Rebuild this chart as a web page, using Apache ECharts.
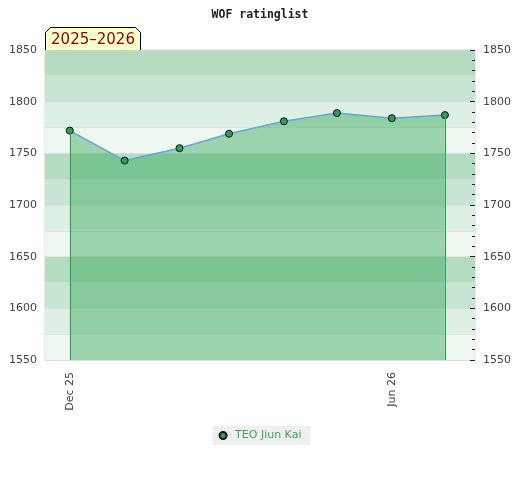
<!DOCTYPE html>
<html>
<head>
<meta charset="utf-8">
<script src="https://cdn.jsdelivr.net/npm/echarts@6/dist/echarts.min.js"></script>
<style>html,body{margin:0;padding:0;background:#fff}#c{width:520px;height:480px}</style>
</head>
<body>
<div id="c"></div>
<script>
var titleText = 'WOF ratinglist';
var seasonText = '2025–2026';
var playerName = 'TEO Jiun Kai';
var dates = ['2025-12-01','2026-01-01','2026-02-01','2026-03-01','2026-04-01','2026-05-01','2026-06-01','2026-07-01'];
var ratings = [1772, 1743, 1755, 1769, 1781, 1789, 1784, 1787];
var xTickDates = ['2025-12-01', '2026-06-01'];
var xTickLabels = ['Dec 25', 'Jun 26'];
var xRange = ['2025-11-17', '2026-07-18'];
var yMin = 1550, yMax = 1850, yStep = 50, bandStep = 25;

var ts = function (d) { return Date.parse(d); };
var seriesData = dates.map(function (d, i) { return [ts(d), ratings[i]]; });
var tickTs = xTickDates.map(ts);
var last = dates.length - 1;
var plain = function (v) { return String(v); };

var chart = echarts.init(document.getElementById('c'));
var font = 'DejaVu Sans';
chart.setOption({
  animation: false,
  title: {
    text: titleText, left: 'center', top: 4,
    textStyle: { fontFamily: 'DejaVu Sans Mono', fontWeight: 'bold', fontSize: 11.5, color: '#222' }
  },
  graphic: [{
    type: 'group', left: 45, top: 27, z: 100,
    children: [{
      type: 'polygon',
      shape: { points: [[0, 5], [5, 0], [90, 0], [95, 5], [95, 23], [0, 23]] },
      style: { fill: '#ffffcc', stroke: '#000', lineWidth: 1 }
    }, {
      type: 'text', x: 47.5, y: 13,
      style: { text: seasonText, fill: '#8b0000', font: '15px "DejaVu Sans"', align: 'center', verticalAlign: 'middle' }
    }]
  }],
  legend: {
    data: [playerName], top: 426, left: 'center',
    backgroundColor: '#f0f0f0', padding: [4, 9, 4, 6],
    icon: 'circle', itemWidth: 14, itemHeight: 7,
    textStyle: { color: '#3ba55d', fontSize: 11, fontFamily: font }
  },
  grid: { left: 45, right: 45, top: 50, bottom: 120, show: true, borderColor: '#d4d4d4', borderWidth: 1, backgroundColor: 'transparent' },
  xAxis: {
    type: 'value', min: ts(xRange[0]), max: ts(xRange[1]),
    axisLine: { show: false }, axisTick: { show: false }, splitLine: { show: false },
    axisLabel: {
      customValues: tickTs, rotate: 90, margin: 12, color: '#444', fontSize: 11, fontFamily: font,
      formatter: function (v) { var i = tickTs.indexOf(v); return i >= 0 ? xTickLabels[i] : ''; }
    }
  },
  yAxis: [{
    type: 'value', min: yMin, max: yMax, interval: yStep, position: 'left',
    axisLine: { show: false }, axisTick: { show: false }, splitLine: { show: false },
    axisLabel: { color: '#444', fontSize: 11, fontFamily: font, margin: 8, formatter: plain }
  }, {
    type: 'value', min: yMin, max: yMax, interval: yStep, position: 'right',
    axisLine: { show: false },
    axisTick: { show: true, inside: true, length: 5, lineStyle: { color: '#222' } },
    minorTick: { show: true, splitNumber: 5, length: 3, lineStyle: { color: '#222' } },
    splitLine: { show: false },
    axisLabel: { color: '#444', fontSize: 11, fontFamily: font, margin: 8, formatter: plain }
  }, {
    type: 'value', min: yMin, max: yMax, interval: bandStep, position: 'left', z: 0,
    axisLine: { show: false }, axisTick: { show: false }, axisLabel: { show: false },
    splitLine: { show: true, lineStyle: { color: 'rgba(215,215,215,0.6)', width: 1 } },
    splitArea: { show: true, areaStyle: { color: ['#eff7f1', '#deefe4', '#c8e5d3', '#b3dcc0'] } }
  }],
  series: [{
    name: playerName, type: 'line', yAxisIndex: 0, data: seriesData,
    symbol: 'circle', symbolSize: 7,
    itemStyle: { color: '#2e9e5b', borderColor: '#111', borderWidth: 1 },
    lineStyle: { color: '#62a6dc', width: 1.5 },
    areaStyle: { color: 'rgba(63,172,96,0.48)', opacity: 1, origin: 'start' },
    markLine: {
      silent: true, symbol: 'none', label: { show: false },
      lineStyle: { color: '#2e9e5b', width: 1, type: 'solid' },
      data: [
        [{ coord: [seriesData[0][0], ratings[0]] }, { coord: [seriesData[0][0], yMin] }],
        [{ coord: [seriesData[last][0], ratings[last]] }, { coord: [seriesData[last][0], yMin] }]
      ]
    }
  }]
});
</script>
</body>
</html>
